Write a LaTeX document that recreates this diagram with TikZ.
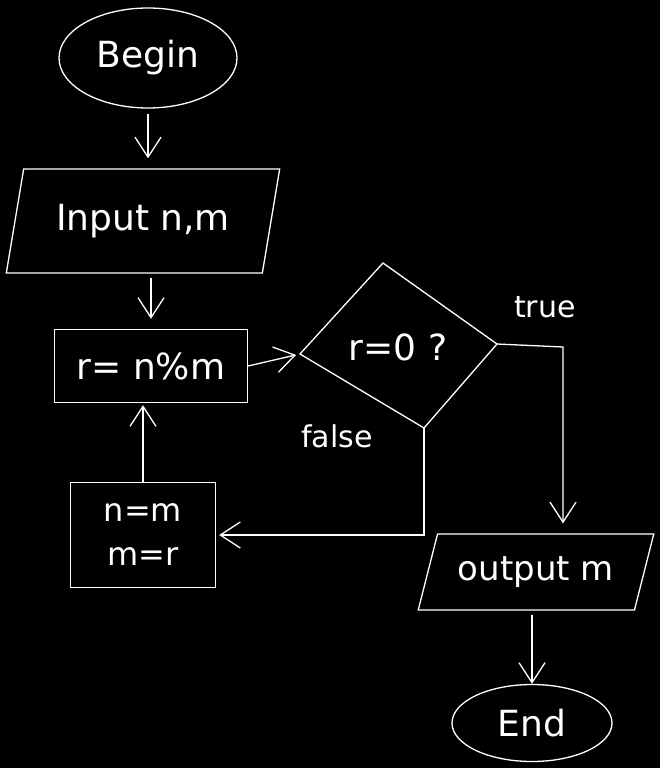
\documentclass[tikz,border=0pt]{standalone}
\usepackage{fontspec}
\setmainfont{DejaVu Sans}
\usetikzlibrary{shapes.geometric}
\usetikzlibrary{arrows.meta}

\begin{document}
\begin{tikzpicture}[x=1pt,y=-1pt]
    \tikzstyle{blk}=[draw=white, line width=1.3pt, text=white, font=\fontsize{36}{42}\selectfont];
    \tikzstyle{io}=[blk, trapezium, trapezium stretches=true];
    \tikzstyle{lbl}=[text=white, font=\fontsize{30}{34}\selectfont];
    \tikzstyle{arr}=[draw=white, line width=1.3pt, -{Straight Barb[length=20pt,width=26pt]}];
    \fill[black] (0,0) rectangle (660,768);
    % blocks
    \node[blk, ellipse, minimum width=178, minimum height=100] (begin) at (148,58) {Begin};
    \node[io, trapezium left angle=72, trapezium right angle=108, minimum width=274, minimum height=104] (inp) at (143,221) {Input n,m};
    \node[blk, minimum width=193, minimum height=73] (r) at (151,366) {r= n\%m};
    \node[blk, minimum width=145, minimum height=105, align=center, font=\fontsize{32}{44}\selectfont] (upd) at (143,535) {n=m\\m=r};
    \node[io, trapezium left angle=67, trapezium right angle=113, minimum width=236, minimum height=76, font=\fontsize{34}{40}\selectfont] (out) at (536,572) {output m};
    \node[blk, ellipse, minimum width=160, minimum height=77] (stop) at (532,723) {End};
    % decision
    \coordinate (qw) at (300,354);
    \coordinate (qn) at (383,263);
    \coordinate (qe) at (497,344);
    \coordinate (qs) at (424,428);
    \draw[white, line width=1.3pt] (qw) -- (qn) -- (qe) -- (qs) -- cycle;
    \node[blk, draw=none] (q) at (398,347) {r=0 ?};
    \node[lbl] (t) at (545,307) {true};
    \node[lbl] (f) at (337,436) {false};
    \coordinate (tc) at (563,347);
    % arrows
    \draw[arr, shorten <=5pt, shorten >=10pt] (begin) -- (begin |- inp.north);
    \draw[arr, shorten <=4pt, shorten >=10pt] (r |- inp.south) -- (r);
    \draw[arr, shorten >=4pt] (r.east) -- (qw);
    \draw[arr, shorten >=10pt] (qe) -- (tc) -- (tc |- out.north);
    \draw[arr, shorten >=3pt] (qs) |- (upd.east);
    \draw[arr, shorten >=2pt] (upd) -- (upd |- r.south);
    \draw[arr, shorten <=4pt] (stop |- out.south) -- (stop);
\end{tikzpicture}
\end{document}
